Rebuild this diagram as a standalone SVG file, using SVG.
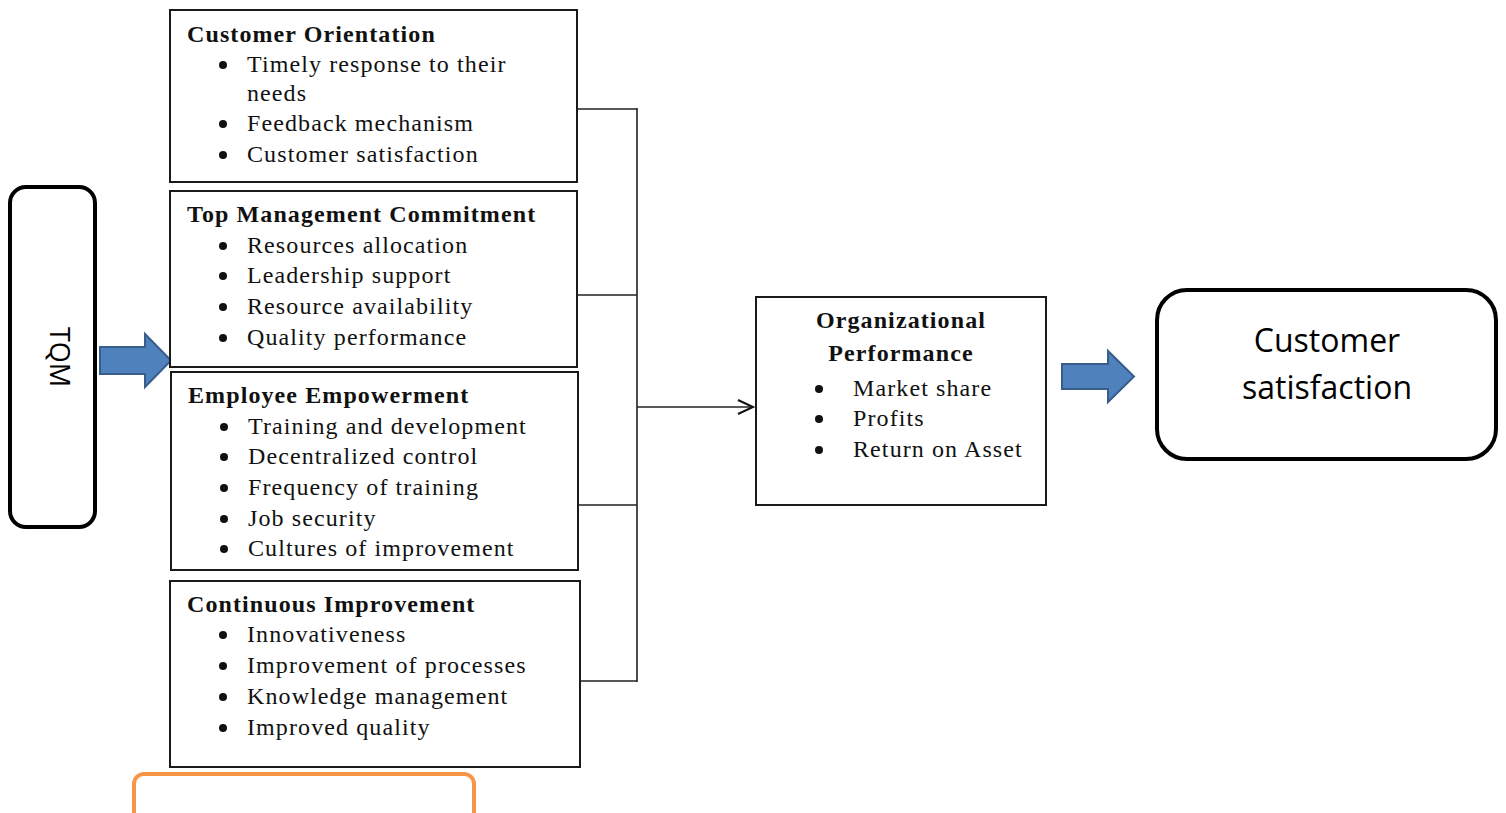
<svg xmlns="http://www.w3.org/2000/svg" width="1506" height="813" viewBox="0 0 1506 813">
<style>
.box{fill:#fff;stroke:#1a1a1a;stroke-width:2}
.rbox{fill:#fff;stroke:#000;stroke-width:4}
.t{font-family:"Liberation Serif","Times New Roman",serif;font-size:24px;letter-spacing:1.1px;fill:#111}
.b{font-weight:bold}
.c{font-family:"Open Sans","Liberation Sans",sans-serif;fill:#000}
.con{fill:none;stroke:#222;stroke-width:1.6}
.blue{fill:#4f81bd;stroke:#385d8a;stroke-width:2}
.dot{fill:#111}
</style>
<defs>
<marker id="open" markerWidth="20" markerHeight="20" refX="16" refY="8" orient="auto" markerUnits="userSpaceOnUse">
<path d="M1,1 L16,8 L1,15" fill="none" stroke="#111" stroke-width="2"/>
</marker>
</defs>

<g id="tqm">
<rect class="rbox" x="10" y="187" width="85" height="340" rx="16"/>
<text class="c" font-size="27" text-anchor="middle" transform="translate(50,357) rotate(90)">TQM</text>
</g>

<g id="arrow-left">
<path class="blue" d="M100,347 L145,347 L145,334 L171,360.5 L145,387 L145,374 L100,374 Z"/>
</g>

<g id="customer-orientation">
<rect class="box" x="170" y="10" width="407" height="172"/>
<text class="t b" x="187" y="42">Customer Orientation</text>
<circle class="dot" cx="223" cy="65" r="4"/>
<text class="t" x="247" y="72">Timely response to their</text>
<text class="t" x="247" y="101">needs</text>
<circle class="dot" cx="223" cy="124" r="4"/>
<text class="t" x="247" y="131">Feedback mechanism</text>
<circle class="dot" cx="223" cy="155" r="4"/>
<text class="t" x="247" y="162">Customer satisfaction</text>
</g>

<g id="top-management">
<rect class="box" x="170" y="191" width="407" height="176"/>
<text class="t b" x="187" y="222">Top Management Commitment</text>
<circle class="dot" cx="223" cy="246" r="4"/>
<text class="t" x="247" y="253">Resources allocation</text>
<circle class="dot" cx="223" cy="276" r="4"/>
<text class="t" x="247" y="283">Leadership support</text>
<circle class="dot" cx="223" cy="307" r="4"/>
<text class="t" x="247" y="314">Resource availability</text>
<circle class="dot" cx="223" cy="338" r="4"/>
<text class="t" x="247" y="345">Quality performance</text>
</g>

<g id="employee-empowerment">
<rect class="box" x="171" y="372" width="407" height="198"/>
<text class="t b" x="188" y="403">Employee Empowerment</text>
<circle class="dot" cx="224" cy="427" r="4"/>
<text class="t" x="248" y="434">Training and development</text>
<circle class="dot" cx="224" cy="457" r="4"/>
<text class="t" x="248" y="464">Decentralized control</text>
<circle class="dot" cx="224" cy="488" r="4"/>
<text class="t" x="248" y="495">Frequency of training</text>
<circle class="dot" cx="224" cy="519" r="4"/>
<text class="t" x="248" y="526">Job security</text>
<circle class="dot" cx="224" cy="549" r="4"/>
<text class="t" x="248" y="556">Cultures of improvement</text>
</g>

<g id="continuous-improvement">
<rect class="box" x="170" y="581" width="410" height="186"/>
<text class="t b" x="187" y="612">Continuous Improvement</text>
<circle class="dot" cx="223" cy="635" r="4"/>
<text class="t" x="247" y="642">Innovativeness</text>
<circle class="dot" cx="223" cy="666" r="4"/>
<text class="t" x="247" y="673">Improvement of processes</text>
<circle class="dot" cx="223" cy="697" r="4"/>
<text class="t" x="247" y="704">Knowledge management</text>
<circle class="dot" cx="223" cy="728" r="4"/>
<text class="t" x="247" y="735">Improved quality</text>
</g>

<g id="connectors">
<path class="con" d="M578,109 H637 M578,295 H637 M578,505 H637 M580,681 H637 M637,108 V682"/>
<path class="con" d="M637,407 H753" marker-end="url(#open)"/>
</g>

<g id="org-performance">
<rect class="box" x="756" y="297" width="290" height="208"/>
<text class="t b" x="901" y="328" text-anchor="middle">Organizational</text>
<text class="t b" x="901" y="361" text-anchor="middle">Performance</text>
<circle class="dot" cx="819" cy="389" r="4"/>
<text class="t" x="853" y="396">Market share</text>
<circle class="dot" cx="819" cy="419" r="4"/>
<text class="t" x="853" y="426">Profits</text>
<circle class="dot" cx="819" cy="450" r="4"/>
<text class="t" x="853" y="457">Return on Asset</text>
</g>

<g id="arrow-right">
<path class="blue" d="M1062,364 L1108,364 L1108,351 L1134,376.5 L1108,402 L1108,389 L1062,389 Z"/>
</g>

<g id="customer-satisfaction">
<rect class="rbox" x="1157" y="290" width="339" height="169" rx="30"/>
<text class="c" font-size="32" x="1327" y="352" text-anchor="middle">Customer</text>
<text class="c" font-size="32" x="1327" y="399" text-anchor="middle">satisfaction</text>
</g>

<g id="orange-box">
<rect x="134" y="774" width="340" height="60" rx="10" fill="#fff" stroke="#f79646" stroke-width="4"/>
</g>
</svg>
